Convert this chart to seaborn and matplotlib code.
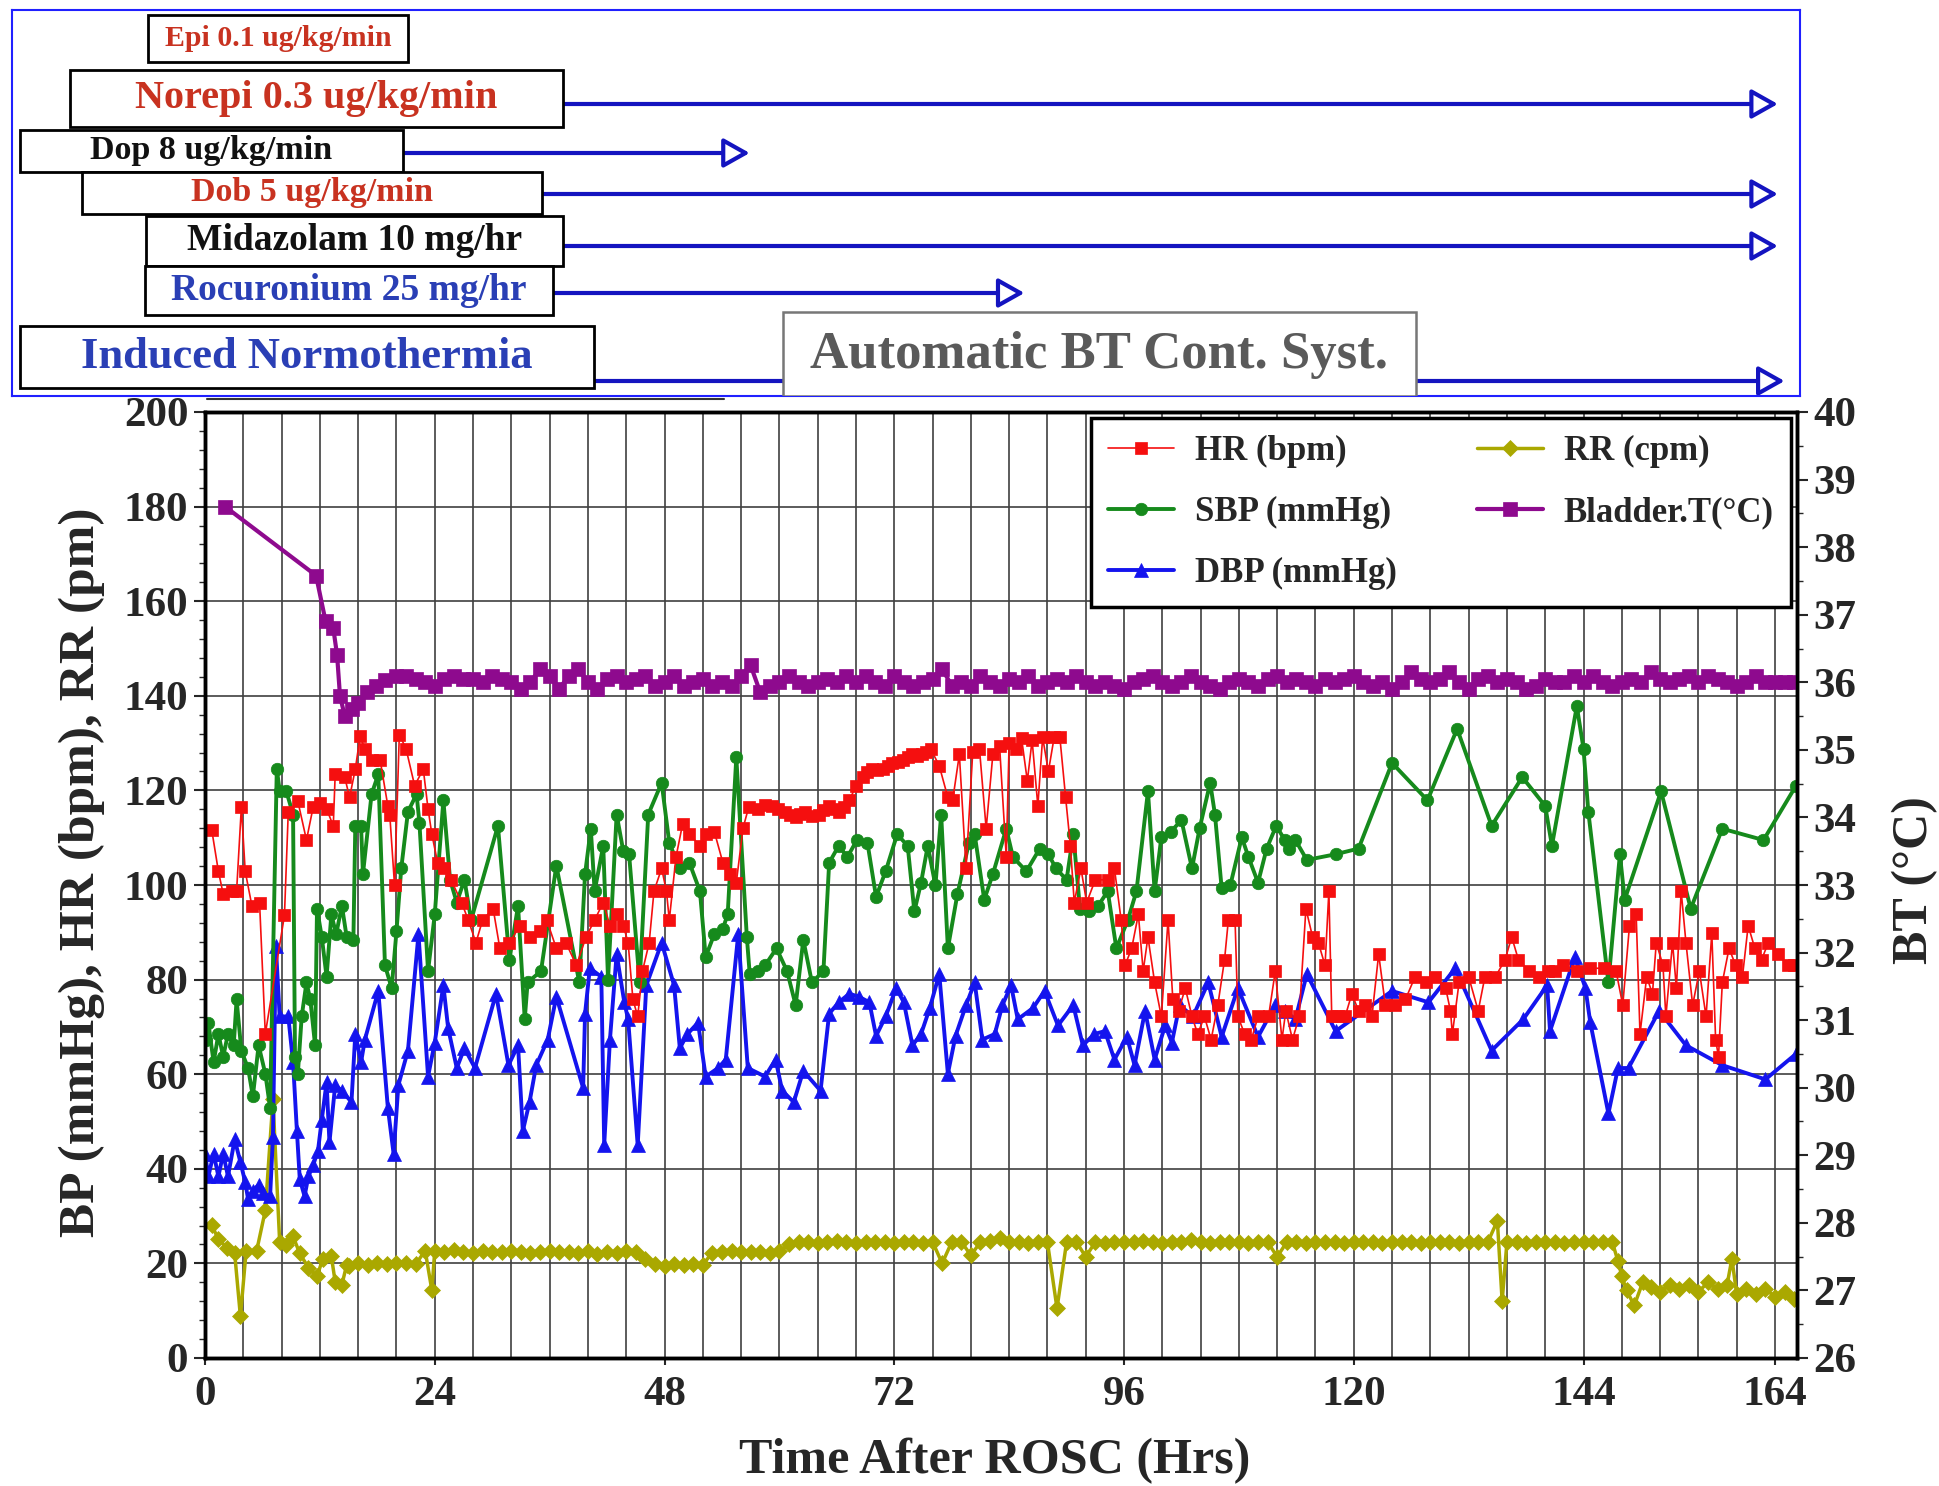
import numpy as np
import pandas as pd
import matplotlib
matplotlib.use('Agg')
import matplotlib.pyplot as plt
import matplotlib.transforms as mtransforms
from matplotlib.patches import Rectangle
from matplotlib.ticker import MultipleLocator
import seaborn as sns

# ---------------- data (hours after ROSC) ----------------
hr_hours = [0.7, 1.4, 1.9, 2.8, 3.3, 3.8, 4.2, 4.9, 5.7, 6.3, 8.3, 8.7, 9.7, 10.6, 11.3, 12.0, 12.7, 13.4, 13.6, 14.6,
            15.1, 15.7, 16.2, 16.7, 17.4, 18.3, 19.1, 19.3, 19.8, 20.3, 21.0, 21.9, 22.8, 23.3, 23.7, 24.3, 25.0, 25.7, 26.8, 27.5,
            28.3, 29.0, 30.1, 30.8, 31.8, 32.9, 33.9, 35.0, 35.7, 36.7, 37.7, 38.8, 39.8, 40.7, 41.6, 42.3, 43.0, 43.7, 44.2, 44.7,
            45.2, 45.7, 46.4, 46.9, 47.7, 48.2, 48.5, 49.2, 49.9, 50.6, 51.7, 52.3, 53.2, 54.1, 54.8, 55.5, 56.2, 56.8, 57.8, 58.5,
            59.2, 59.9, 60.6, 61.1, 61.7, 62.2, 62.7, 63.4, 64.1, 64.6,
            65.2, 65.7, 66.2, 66.7, 67.3, 68.0, 68.7, 69.2, 69.7, 70.2,
            70.8, 71.3, 71.8, 72.4, 72.9, 73.4, 73.9, 74.4, 74.9, 75.3,
            75.8, 76.7, 77.6, 78.1, 78.8,
            79.5, 80.2, 80.9, 81.6, 82.3, 83.0, 83.7, 84.0, 84.7, 85.3, 85.9, 86.4, 87.0, 87.5, 88.1, 88.7, 89.3, 89.9, 90.4, 90.8,
            91.5, 92.1, 93.0, 94.3, 95.0, 95.7, 96.1, 96.8, 97.5, 98.0, 98.5, 99.2, 99.9, 100.6, 101.1, 101.7, 102.4, 103.1, 103.7, 104.4,
            105.1, 105.8, 106.5, 106.9, 107.6, 107.9, 108.6, 109.3, 110.0, 111.1, 111.8, 112.5, 112.9, 113.6, 114.3, 115.0, 115.7, 116.3, 117.0, 117.4,
            117.7, 118.4, 119.1, 119.8, 120.5, 121.2, 121.9, 122.6, 123.3, 124.3, 125.4, 126.4, 127.5, 128.5, 129.6, 130.1, 130.3, 131.0, 132.0, 133.0,
            133.7, 134.8, 135.8, 136.5, 137.2, 138.3, 139.3, 140.3, 141.0, 141.9, 143.3, 144.7, 146.1, 147.4, 148.1, 148.8, 149.5, 149.9, 150.6, 151.2,
            151.6, 152.3, 152.6, 153.3, 153.7, 154.2, 154.7, 155.4, 156.1, 156.8, 157.4, 157.8, 158.1, 158.5, 159.2, 159.9, 160.6, 161.2, 161.9, 162.6,
            163.3, 164.3, 165.4, 166.0]
hr_vals = [111.7, 102.9, 98.1, 98.7, 98.7, 116.5, 102.9, 95.6, 96.3, 68.5, 93.6, 115.5, 117.7, 109.5, 116.5, 117.4, 116.1, 112.5, 123.4, 122.8,
           118.5, 124.5, 131.4, 128.8, 126.4, 126.4, 116.7, 114.9, 99.9, 131.8, 128.8, 121.0, 124.5, 116.1, 110.7, 104.7, 103.5, 101.1, 96.3, 92.6,
           87.8, 92.6, 95.0, 86.6, 87.8, 91.4, 89.0, 90.2, 92.6, 86.6, 87.8, 83.0, 89.0, 92.6, 96.3, 91.4, 93.8, 91.4, 87.8, 75.8,
           72.2, 81.8, 87.8, 98.7, 103.5, 98.7, 92.6, 105.9, 113.0, 110.7, 108.3, 110.7, 111.3, 104.7, 102.3, 100.5, 112.0, 116.5, 116.1, 116.9,
           116.7, 116.0, 115.5, 114.9, 114.3, 115.0, 115.5, 114.6, 114.9, 115.8,
           116.7, 116.0, 115.5, 116.5, 117.9, 120.9, 122.8, 123.8, 124.5, 124.3,
           124.5, 125.2, 125.8, 126.0, 126.4, 127.0, 127.6, 127.2, 127.6, 128.2,
           128.8, 125.2, 118.5, 117.9, 127.6,
           103.5, 128.2, 128.8, 111.9, 127.6, 129.4, 105.9, 130.0, 128.8, 131.0, 122.0, 130.6, 116.7, 131.2, 124.0, 131.2, 131.2, 118.5, 108.3, 96.3,
           103.5, 96.3, 101.1, 101.1, 103.5, 92.6, 83.0, 86.6, 93.8, 81.8, 89.0, 79.4, 72.2, 92.6, 75.8, 73.4, 78.2, 72.2, 68.5, 72.2,
           67.3, 74.6, 84.2, 92.6, 92.6, 72.2, 68.5, 67.3, 72.2, 72.2, 81.8, 67.3, 73.4, 67.3, 72.2, 95.0, 89.0, 87.8, 83.0, 98.7,
           72.2, 72.2, 72.2, 77.0, 73.4, 74.6, 72.2, 85.4, 74.6, 74.6, 75.8, 80.6, 79.4, 80.6, 78.2, 73.4, 68.5, 79.4, 80.6, 73.4,
           80.6, 80.6, 84.2, 89.0, 84.2, 81.8, 80.6, 81.8, 81.8, 83.0, 81.8, 82.4, 82.4, 81.8, 74.6, 91.4, 93.8, 68.5, 80.6, 77.0,
           87.8, 83.0, 72.2, 87.8, 78.2, 98.7, 87.8, 74.6, 81.8, 72.2, 89.8, 67.3, 63.7, 79.4, 86.6, 83.0, 80.6, 91.4, 86.6, 84.2,
           87.8, 85.4, 83.0, 83.0]

sbp_hours = [0.1, 0.35, 0.9, 1.4, 1.9, 2.4, 3.0, 3.3, 3.8, 4.5, 5.0, 5.6, 6.3, 6.8, 7.5, 7.8, 8.5, 9.2, 9.4, 9.7,
             10.1, 10.6, 11.0, 11.5, 11.7, 12.2, 12.7, 13.2, 13.7, 14.3, 14.8, 15.5, 15.7, 16.3, 16.5, 17.4, 18.1, 18.8, 19.5, 20.0,
             20.5, 21.2, 22.1, 22.4, 23.3, 24.0, 24.9, 25.6, 26.3, 27.1, 27.8, 30.6, 31.8, 32.7, 33.4, 33.7, 35.1, 36.7, 39.1, 39.7,
             40.3, 40.7, 41.6, 42.1, 43.0, 43.7, 44.3, 45.4, 46.3, 47.7, 48.5, 49.6, 50.6, 51.7, 52.3, 53.2, 54.1, 54.6, 55.5, 56.6,
             56.9, 57.8, 58.5, 59.7, 60.8, 61.7, 62.5, 63.4, 64.6, 65.2, 66.2, 67.1, 68.1, 69.2, 70.1, 71.1, 72.3, 73.4, 74.1, 74.8,
             75.5, 76.3, 76.9, 77.6, 78.6, 79.8, 80.4, 81.4, 82.3, 83.7, 84.4, 85.8, 87.2, 88.1, 88.9, 90.0, 90.7, 91.4, 92.3, 93.3,
             94.3, 95.2, 96.4, 97.3, 98.5, 99.2, 99.9, 100.9, 102.0, 103.1, 103.9, 105.0, 105.5, 106.2, 107.1, 108.3, 109.0, 110.0, 110.9, 111.9,
             112.8, 113.2, 113.9, 115.1, 118.1, 120.5, 124.0, 127.7, 130.8, 134.4, 137.6, 140.0, 140.7, 143.3, 144.0, 144.5, 146.6, 147.8, 148.3, 152.1,
             155.2, 158.5, 162.8, 166.2]
sbp_vals = [67.3, 70.9, 62.5, 68.5, 63.7, 68.5, 66.1, 75.8, 64.9, 61.3, 55.3, 66.1, 60.1, 52.9, 124.6, 119.8, 119.8, 114.9, 63.7, 60.1,
            72.2, 79.4, 75.8, 66.1, 95.0, 89.0, 80.6, 93.8, 89.6, 95.6, 89.0, 88.4, 112.5, 112.5, 102.3, 119.2, 123.4, 83.0, 78.2, 90.2,
            103.5, 115.5, 119.2, 113.1, 81.8, 93.8, 117.9, 101.1, 96.3, 101.1, 92.6, 112.5, 84.2, 95.6, 71.6, 79.4, 81.8, 104.1, 79.4, 102.3,
            111.9, 98.7, 108.3, 80.0, 114.9, 107.1, 106.5, 79.4, 114.9, 121.6, 108.9, 103.5, 104.7, 98.7, 84.8, 89.6, 90.8, 93.8, 127.0, 89.0,
            81.2, 81.8, 83.0, 86.6, 81.8, 74.6, 88.4, 79.4, 81.8, 104.7, 108.3, 105.9, 109.5, 108.9, 97.5, 102.9, 110.7, 108.3, 94.4, 100.5,
            108.3, 99.9, 114.9, 86.6, 98.1, 108.9, 110.7, 96.9, 102.3, 111.9, 105.9, 102.9, 107.7, 106.5, 103.5, 101.1, 110.7, 95.0, 94.4, 95.6,
            98.7, 86.6, 92.6, 98.7, 119.8, 98.7, 110.1, 111.3, 113.7, 103.5, 112.0, 121.6, 114.9, 99.3, 99.9, 110.1, 105.9, 100.5, 107.7, 112.5,
            109.5, 107.7, 109.5, 105.3, 106.5, 107.7, 125.8, 117.9, 133.0, 112.5, 122.8, 116.7, 108.3, 137.8, 128.8, 115.5, 79.4, 106.5, 96.9, 119.8,
            95.0, 111.9, 109.5, 121.0]

dbp_hours = [0.0, 0.35, 0.9, 1.4, 1.9, 2.4, 3.1, 3.7, 4.2, 4.5, 5.0, 5.6, 6.1, 6.8, 7.1, 7.4, 7.8, 8.7, 9.2, 9.6,
             9.9, 10.4, 10.8, 11.3, 11.8, 12.2, 12.7, 13.0, 13.6, 14.3, 15.3, 15.7, 16.3, 16.7, 18.1, 19.1, 19.7, 20.2, 21.2, 22.3,
             23.3, 24.0, 24.9, 25.4, 26.3, 27.1, 28.2, 30.4, 31.7, 32.7, 33.2, 33.9, 34.6, 35.8, 36.7, 39.5, 39.7, 40.2, 41.4, 41.7,
             42.3, 43.0, 43.8, 44.2, 45.2, 46.1, 47.7, 49.0, 49.6, 50.4, 51.5, 52.3, 53.6, 54.4, 55.7, 56.7, 58.5, 59.6, 60.3, 61.5,
             62.5, 64.3, 65.2, 66.2, 67.3, 68.3, 69.4, 70.1, 71.1, 72.2, 73.0, 73.9, 74.8, 75.7, 76.7, 77.6, 78.4, 79.5, 80.4, 81.2,
             82.5, 83.3, 84.2, 84.9, 86.5, 87.7, 89.1, 90.7, 91.7, 92.9, 94.0, 95.0, 96.3, 97.1, 98.2, 99.2, 100.3, 101.0, 101.8, 103.2,
             104.8, 106.2, 107.9, 110.0, 111.8, 112.8, 113.9, 115.1, 118.1, 124.0, 127.8, 130.6, 134.4, 137.7, 140.2, 140.5, 143.1, 144.2, 144.7, 146.6,
             147.6, 148.7, 151.9, 154.7, 158.5, 163.0, 166.2]
dbp_vals = [43.2, 38.4, 43.2, 38.4, 43.2, 38.4, 46.2, 41.4, 37.2, 33.6, 35.4, 36.6, 34.8, 34.2, 46.8, 87.2, 72.2, 72.2, 62.5, 48.0,
            37.8, 34.2, 38.4, 40.8, 43.8, 50.4, 58.3, 45.6, 57.7, 56.5, 54.1, 68.5, 62.5, 67.3, 77.6, 52.9, 43.2, 57.7, 65.0, 89.6,
            59.5, 66.7, 78.8, 69.7, 61.3, 65.5, 61.3, 77.0, 61.9, 66.1, 48.0, 54.1, 61.9, 67.3, 76.4, 57.1, 72.8, 82.4, 80.6, 45.0,
            67.3, 85.4, 75.2, 71.6, 45.0, 78.8, 87.8, 78.8, 65.5, 68.5, 70.9, 59.5, 61.3, 63.1, 89.6, 61.3, 59.5, 63.1, 56.5, 54.1,
            60.7, 56.5, 72.8, 75.2, 77.0, 76.4, 75.2, 68.1, 72.2, 78.2, 75.2, 66.1, 68.5, 73.9, 81.2, 60.1, 68.1, 74.6, 79.4, 67.3,
            68.5, 74.6, 78.8, 71.6, 74.0, 77.6, 70.3, 74.6, 66.1, 68.5, 69.1, 63.1, 67.9, 61.9, 73.4, 63.1, 70.3, 66.7, 74.6, 72.2,
            79.4, 67.9, 78.2, 67.9, 74.6, 73.4, 71.6, 81.2, 69.1, 77.6, 75.2, 82.4, 65.0, 71.6, 78.8, 69.1, 84.8, 78.2, 71.0, 51.7,
            61.3, 61.3, 73.4, 66.1, 61.9, 58.9, 64.3]

rr_hours = [0.7, 1.4, 2.3, 3.1, 3.7, 4.3, 5.4, 6.3, 7.1, 7.8, 8.5, 9.2, 9.9, 10.8, 11.7, 12.3, 13.2, 13.6, 14.3, 14.8,
            15, 16, 17, 18, 19, 20, 21, 22, 23, 23.7,
            24, 25, 26, 27, 28, 29, 30, 31, 32, 33, 34, 35, 36, 37, 38, 39, 40, 41, 42, 43, 44, 45,
            46, 47, 48, 49, 50, 51, 52,
            53, 54, 55, 56, 57, 58, 59, 60,
            61, 62, 63, 64, 65, 66, 67, 68, 69, 70, 71, 72, 73, 74, 75, 76, 77, 78, 79, 80,
            81, 82, 83, 84, 85, 86, 87, 88, 89, 90, 91, 92, 93, 94, 95, 96, 97, 98, 99, 100,
            101, 102, 103, 104, 105, 106, 107, 108, 109, 110, 111, 112, 113, 114, 115, 116, 117, 118, 119, 120,
            121, 122, 123, 124, 125, 126, 127, 128, 129, 130, 131, 132, 133, 134, 135, 135.5, 136, 137, 138, 139, 140,
            141, 142, 143, 144, 145, 146, 147, 147.6, 148.0, 148.5, 149.3, 150.2, 151, 152, 153, 154, 155, 156, 157,
            158, 159, 159.5, 160, 161, 162, 163, 164, 165, 166]
rr_vals = [28.1, 25.1, 23.3, 22.1, 8.8, 22.7, 22.7, 31.2, 54.7, 24.5, 23.9, 25.7, 22.1, 19.1, 17.3, 20.9, 21.5, 16.1, 15.5, 19.7,
           19.5, 20.0, 19.7, 20.0, 19.8, 20.0, 20.0, 19.8, 22.7, 14.3,
           22.7, 22.5, 22.9, 22.5, 22.3, 22.6, 22.5, 22.4, 22.6, 22.5, 22.2, 22.5, 22.7, 22.4, 22.5, 22.3, 22.6, 22.0, 22.5, 22.3, 22.6, 22.5,
           21.0, 19.8, 19.5, 19.8, 19.6, 19.8, 19.7,
           22.3, 22.5, 22.6, 22.4, 22.5, 22.5, 22.3, 22.6,
           24.0, 24.5, 24.6, 24.4, 24.5, 24.7, 24.5, 24.4, 24.6, 24.5, 24.5, 24.3, 24.6, 24.5, 24.4, 24.6, 20.0, 24.5, 24.6, 21.7,
           24.5, 24.8, 25.4, 24.6, 24.5, 24.4, 24.6, 24.5, 10.5, 24.5, 24.6, 21.4, 24.5, 24.4, 24.6, 24.5, 24.5, 24.7, 24.5, 24.4,
           24.6, 24.5, 25.0, 24.5, 24.4, 24.6, 24.5, 24.5, 24.3, 24.6, 24.5, 21.4, 24.5, 24.6, 24.4, 24.5, 24.6, 24.5, 24.4, 24.5,
           24.6, 24.5, 24.4, 24.5, 24.6, 24.5, 24.4, 24.6, 24.5, 24.5, 24.4, 24.6, 24.5, 24.5, 29.0, 12.0, 24.5, 24.6, 24.4, 24.5, 24.6,
           24.5, 24.4, 24.6, 24.5, 24.5, 24.6, 24.5, 20.5, 17.3, 14.3, 11.1, 16.1, 15.0, 14.0, 15.5, 14.5, 15.5, 14.0, 16.0,
           14.5, 15.5, 21.0, 13.5, 14.5, 13.5, 14.5, 13.0, 14.0, 12.5]

bt_hours = [2.1, 11.6, 12.6, 13.4, 13.8, 14.1, 14.6, 15.4, 16.0, 16.9, 17.9, 18.8,
            20, 21, 22, 23, 24, 25, 26, 27, 28, 29, 30, 31, 32, 33, 34, 35, 36, 37, 38, 39,
            40, 41, 42, 43, 44, 45, 46, 47, 48, 49, 50, 51, 52, 53, 54, 55, 56, 57, 58, 59,
            60, 61, 62, 63, 64, 65, 66, 67, 68, 69, 70, 71, 72, 73, 74, 75, 76, 77, 78, 79,
            80, 81, 82, 83, 84, 85, 86, 87, 88, 89, 90, 91, 92, 93, 94, 95, 96, 97, 98, 99,
            100, 101, 102, 103, 104, 105, 106, 107, 108, 109, 110, 111, 112, 113, 114, 115, 116, 117, 118, 119,
            120, 121, 122, 123, 124, 125, 126, 127, 128, 129, 130, 131, 132, 133, 134, 135, 136, 137, 138, 139,
            140, 141, 142, 143, 144, 145, 146, 147, 148, 149, 150, 151, 152, 153, 154, 155, 156, 157, 158, 159,
            160, 161, 162, 163, 164, 165, 166]
bt_vals = [38.6, 37.58, 36.9, 36.8, 36.4, 35.8, 35.5, 35.6, 35.7, 35.85, 35.95, 36.03,
           36.1, 36.1, 36.05, 36.0, 35.95, 36.05, 36.1, 36.05, 36.05, 36.0, 36.1, 36.05, 36.0, 35.9, 36.0, 36.2, 36.1, 35.9, 36.1, 36.2,
           36.0, 35.9, 36.05, 36.1, 36.0, 36.05, 36.1, 35.95, 36.0, 36.1, 35.95, 36.0, 36.05, 35.95, 36.0, 35.95, 36.1, 36.25, 35.85, 35.95,
           36.0, 36.1, 36.0, 35.95, 36.0, 36.05, 36.0, 36.1, 36.0, 36.1, 36.0, 35.95, 36.1, 36.0, 35.95, 36.0, 36.05, 36.2, 35.95, 36.0,
           35.95, 36.1, 36.0, 35.95, 36.05, 36.0, 36.1, 35.95, 36.0, 36.05, 36.0, 36.1, 36.0, 35.95, 36.0, 35.95, 35.9, 36.0, 36.05, 36.1,
           36.0, 35.95, 36.0, 36.1, 36.0, 35.95, 35.9, 36.0, 36.05, 36.0, 35.95, 36.05, 36.1, 36.0, 36.05, 36.0, 35.95, 36.05, 36.0, 36.05,
           36.1, 36.0, 35.95, 36.0, 35.9, 36.0, 36.15, 36.05, 36.0, 36.05, 36.15, 36.0, 35.9, 36.05, 36.1, 36.0, 36.05, 36.0, 35.9, 35.95,
           36.05, 36.0, 36.0, 36.1, 36.0, 36.1, 36.0, 35.95, 36.0, 36.05, 36.0, 36.15, 36.05, 36.0, 36.05, 36.1, 36.0, 36.1, 36.05, 36.0,
           35.95, 36.0, 36.1, 36.0, 36.0, 36.0, 36.0]

# infusion / therapy panel
drug_names = ['Epi 0.1 ug/kg/min', 'Norepi 0.3 ug/kg/min', 'Dop 8 ug/kg/min', 'Dob 5 ug/kg/min',
              'Midazolam 10 mg/hr', 'Rocuronium 25 mg/hr', 'Induced Normothermia']
drug_end_hours = [None, 164.3, 56.9, 164.3, 164.3, 85.6, 165.0]
drug_colors = ['#c83220', '#c83220', '#111111', '#c83220', '#111111', '#2a3fb5', '#2a3fb5']
# box layout in pixels: x0, x1, y0, y1, arrow y, font size
drug_layout = [(148, 408, 15, 62, None, 21.5),
               (70, 563, 70, 127, 104, 29),
               (20, 403, 130, 172, 153, 24.5),
               (82, 542, 172, 214, 194, 24.5),
               (146, 563, 216, 266, 246, 27),
               (145, 553, 266, 315, 293, 27),
               (20, 594, 326, 388, 381, 32)]

HR_C, SBP_C, DBP_C, RR_C, BT_C = '#f50f0f', '#168a1c', '#1414ee', '#aaa800', '#8e0a8e'
ARROW_C = '#1414c0'

sns.set_style('ticks')
plt.rcParams['font.family'] = ['Liberation Serif', 'DejaVu Serif']
plt.rcParams['font.weight'] = 'bold'

W, H = 1939, 1486
fig = plt.figure(figsize=(W / 100, H / 100), dpi=100)
ax = fig.add_axes([205 / W, 1 - 1358 / H, 1592 / W, 946 / H])
ax2 = ax.twinx()

common = dict(ax=ax, estimator=None, sort=False, legend=False)
sns.lineplot(x=rr_hours, y=rr_vals, color=RR_C, marker='D', markersize=8, linewidth=2.5,
             markeredgecolor=RR_C, markeredgewidth=0.5, label='RR (cpm)', **common)
sns.lineplot(x=dbp_hours, y=dbp_vals, color=DBP_C, marker='^', markersize=10, linewidth=2.8,
             markeredgecolor=DBP_C, markeredgewidth=0.5, label='DBP (mmHg)', **common)
sns.lineplot(x=sbp_hours, y=sbp_vals, color=SBP_C, marker='o', markersize=9, linewidth=2.8,
             markeredgecolor=SBP_C, markeredgewidth=0.5, label='SBP (mmHg)', **common)
sns.lineplot(x=hr_hours, y=hr_vals, color=HR_C, marker='s', markersize=9, linewidth=1.2,
             markeredgecolor=HR_C, markeredgewidth=0.5, label='HR (bpm)', **common)
sns.lineplot(x=bt_hours, y=bt_vals, ax=ax2, color=BT_C, marker='s', markersize=10, linewidth=3,
             markeredgecolor=BT_C, markeredgewidth=0.5, label='Bladder.T(\u00b0C)',
             estimator=None, sort=False, legend=False)

ax.set_xlim(0, 166.3)
ax.set_ylim(0, 200)
ax2.set_ylim(26, 40)

ax.set_xticks([0, 24, 48, 72, 96, 120, 144, 164])
ax.xaxis.set_minor_locator(MultipleLocator(4))
ax.set_yticks(range(0, 201, 20))
ax.yaxis.set_minor_locator(MultipleLocator(4))
ax2.set_yticks(range(26, 41))
ax2.yaxis.set_minor_locator(MultipleLocator(0.5))

ax.set_axisbelow(True)
ax.grid(True, which='both', axis='x', color='#404040', lw=1.2)
ax.grid(True, which='major', axis='y', color='#404040', lw=1.2)

ax.tick_params(axis='y', which='major', direction='out', length=8, width=1.5, labelsize=31, pad=4)
ax.tick_params(axis='y', which='minor', direction='out', length=4, width=1)
ax.tick_params(axis='x', which='major', direction='out', length=5, width=1.5, labelsize=31, pad=8)
ax.tick_params(axis='x', which='minor', length=0)
ax2.tick_params(axis='y', which='major', direction='out', length=8, width=1.5, labelsize=31, pad=4)
ax2.tick_params(axis='y', which='minor', direction='out', length=4, width=1)
for a in (ax, ax2):
    for s in a.spines.values():
        s.set_linewidth(2.5)
        s.set_color('black')

ax.set_ylabel('BP (mmHg), HR (bpm), RR (pm)', fontsize=37, fontweight='bold')
ax.yaxis.set_label_coords(-0.0628, 0.514)
ax.set_xlabel('Time After ROSC (Hrs)', fontsize=36, fontweight='bold')
ax.xaxis.set_label_coords(0.496, -0.0846)
ax2.set_ylabel('BT (\u00b0C)', fontsize=36, fontweight='bold')
ax2.yaxis.set_label_coords(1.0597, 0.505)

h1, l1 = ax.get_legend_handles_labels()
h2, l2 = ax2.get_legend_handles_labels()
lookup = dict(zip(l1 + l2, h1 + h2))
order = ['HR (bpm)', 'SBP (mmHg)', 'DBP (mmHg)', 'RR (cpm)', 'Bladder.T(\u00b0C)']
leg = ax2.legend([lookup[k] for k in order], order, loc='upper right', ncol=2, fontsize=25,
                 frameon=True, fancybox=False, edgecolor='black', framealpha=1,
                 borderaxespad=0.17, handlelength=1.9, labelspacing=0.8,
                 columnspacing=2.3, borderpad=0.5, handletextpad=0.6)
leg.get_frame().set_linewidth(2.5)

# ---------------- therapy panel above the chart ----------------
pax = fig.add_axes([12 / W, 1 - 396 / H, 1788 / W, 386 / H])
pax.set_xlim(12, 1800)
pax.set_ylim(396, 10)
pax.set_xticks([])
pax.set_yticks([])
for s in pax.spines.values():
    s.set_color('#2020ff')
    s.set_linewidth(1.5)

blend = mtransforms.blended_transform_factory(ax.transData, pax.transData)
for name, end_h, col, (x0, x1, y0, y1, ay, fs) in zip(drug_names, drug_end_hours, drug_colors, drug_layout):
    pax.add_patch(Rectangle((x0, y0), x1 - x0, y1 - y0, fc='white', ec='black', lw=2, zorder=3))
    pax.text((x0 + x1) / 2, (y0 + y1) / 2, name, ha='center', va='center', fontsize=fs,
             color=col, fontweight='bold', zorder=4)
    if end_h is not None:
        pax.annotate('', xy=(end_h, ay), xycoords=blend, xytext=(x1, ay), textcoords='data',
                     arrowprops=dict(arrowstyle='-|>,head_length=0.8,head_width=0.45',
                                     mutation_scale=20, lw=3, ec=ARROW_C, fc='white',
                                     shrinkA=0, shrinkB=0),
                     zorder=2, annotation_clip=False)

pax.add_patch(Rectangle((783, 312), 1416 - 783, 396 - 312, fc='white', ec='#777777', lw=1.8, zorder=3))
pax.text(1099, 355, 'Automatic BT Cont. Syst.', ha='center', va='center', fontsize=38,
         color='#5a5a5a', fontweight='bold', zorder=4)
pax.plot([207, 724], [399, 399], color='#333333', lw=1.5, clip_on=False, zorder=1)

fig.savefig('out.png', dpi=100)
